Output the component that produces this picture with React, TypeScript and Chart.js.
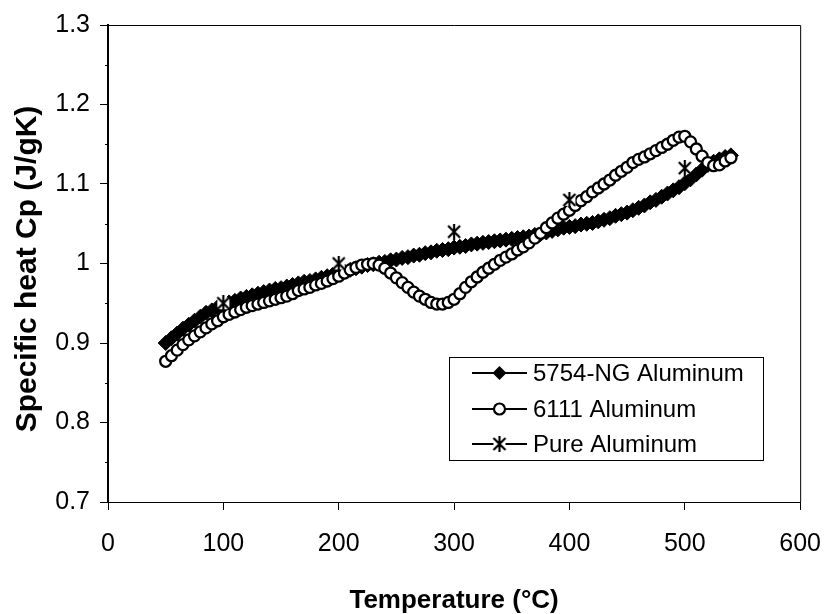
import React, { useEffect, useRef } from "react";
import { Chart, registerables } from "chart.js";

Chart.register(...registerables);

// Temperature grid (°C) shared by the two DSC curves
const TEMPS = [
  50, 55, 60, 65, 70, 75, 80, 85, 90, 95,
  100, 105, 110, 115, 120, 125, 130, 135, 140, 145,
  150, 155, 160, 165, 170, 175, 180, 185, 190, 195,
  200, 205, 210, 215, 220, 225, 230, 235, 240, 245,
  250, 255, 260, 265, 270, 275, 280, 285, 290, 295,
  300, 305, 310, 315, 320, 325, 330, 335, 340, 345,
  350, 355, 360, 365, 370, 375, 380, 385, 390, 395,
  400, 405, 410, 415, 420, 425, 430, 435, 440, 445,
  450, 455, 460, 465, 470, 475, 480, 485, 490, 495,
  500, 505, 510, 515, 520, 525, 530, 535, 540,
];

const CP_5754 = [
  0.900, 0.906, 0.912, 0.918, 0.923, 0.928, 0.933, 0.938, 0.941, 0.945,
  0.948, 0.951, 0.953, 0.956, 0.958, 0.960, 0.962, 0.964, 0.966, 0.968,
  0.969, 0.971, 0.973, 0.975, 0.977, 0.978, 0.980, 0.982, 0.984, 0.986,
  0.988, 0.990, 0.992, 0.994, 0.996, 0.998, 0.999, 1.001, 1.002, 1.004,
  1.005, 1.007, 1.008, 1.010, 1.011, 1.013, 1.014, 1.016, 1.017, 1.018,
  1.020, 1.021, 1.022, 1.024, 1.025, 1.026, 1.027, 1.028, 1.029, 1.030,
  1.031, 1.032, 1.033, 1.034, 1.036, 1.037, 1.039, 1.041, 1.043, 1.045,
  1.046, 1.047, 1.049, 1.050, 1.051, 1.053, 1.055, 1.057, 1.060, 1.062,
  1.064, 1.067, 1.070, 1.073, 1.077, 1.080, 1.084, 1.088, 1.092, 1.096,
  1.101, 1.106, 1.112, 1.118, 1.124, 1.128, 1.131, 1.134, 1.136,
];

const CP_6111 = [
  0.877, 0.884, 0.891, 0.898, 0.904, 0.909, 0.914, 0.919, 0.924, 0.928,
  0.933, 0.936, 0.939, 0.942, 0.945, 0.947, 0.949, 0.951, 0.953, 0.955,
  0.957, 0.959, 0.962, 0.966, 0.968, 0.970, 0.973, 0.975, 0.978, 0.981,
  0.984, 0.988, 0.992, 0.995, 0.998, 0.999, 1.000, 0.998, 0.994, 0.988,
  0.982, 0.976, 0.970, 0.964, 0.959, 0.955, 0.951, 0.949, 0.949, 0.951,
  0.955, 0.962, 0.970, 0.977, 0.983, 0.989, 0.994, 0.999, 1.004, 1.008,
  1.012, 1.017, 1.021, 1.026, 1.032, 1.038, 1.045, 1.051, 1.057, 1.062,
  1.067, 1.073, 1.079, 1.084, 1.090, 1.095, 1.100, 1.105, 1.111, 1.116,
  1.121, 1.127, 1.131, 1.134, 1.138, 1.142, 1.146, 1.150, 1.155, 1.159,
  1.160, 1.153, 1.144, 1.135, 1.127, 1.123, 1.124, 1.129, 1.133,
];

const PURE_TEMPS = [100, 200, 300, 400, 500];
const CP_PURE = [0.95, 1.0, 1.04, 1.08, 1.12];

const SERIES_NAMES = ["5754-NG Aluminum", "6111 Aluminum", "Pure Aluminum"];

const X_TICKS = [0, 100, 200, 300, 400, 500, 600];
const Y_TICK_LABELS = ["0.7", "0.8", "0.9", "1", "1.1", "1.2", "1.3"];

const X_TITLE = "Temperature (\u00B0C)";
const Y_TITLE = "Specific heat Cp (J/gK)";

const FONT = "'Liberation Sans', Arial, sans-serif";

function toPoints(xs: number[], ys: number[]) {
  return xs.map((x, i) => ({ x, y: ys[i] }));
}

function makeStar(size: number): HTMLCanvasElement {
  const c = document.createElement("canvas");
  c.width = size;
  c.height = size;
  const g = c.getContext("2d")!;
  const h = size / 2;
  g.fillStyle = "#fff";
  g.fillRect(2, 2, size - 4, size - 4);
  g.strokeStyle = "#000";
  g.lineWidth = 2.2;
  g.lineCap = "butt";
  g.beginPath();
  g.moveTo(h, 0);
  g.lineTo(h, size);
  g.moveTo(2, 2);
  g.lineTo(size - 2, size - 2);
  g.moveTo(size - 2, 2);
  g.lineTo(2, size - 2);
  g.stroke();
  return c;
}

export default function App() {
  const ref = useRef<HTMLCanvasElement | null>(null);

  useEffect(() => {
    if (!ref.current) return;
    const star = makeStar(16);

    const decorPlugin = {
      id: "decor",
      afterDraw(chart: any) {
        const ctx = chart.ctx as CanvasRenderingContext2D;
        const a = chart.chartArea;
        const yScale = chart.scales.y;
        ctx.save();
        // plot frame (top & right)
        ctx.strokeStyle = "#000";
        ctx.lineWidth = 1;
        ctx.beginPath();
        ctx.moveTo(a.left, a.top + 0.5);
        ctx.lineTo(a.right + 0.5, a.top + 0.5);
        ctx.lineTo(a.right + 0.5, a.bottom);
        ctx.stroke();
        // minor y ticks
        ctx.beginPath();
        for (let i = 0; i < Y_TICK_LABELS.length - 1; i++) {
          const v = (parseFloat(Y_TICK_LABELS[i]) + parseFloat(Y_TICK_LABELS[i + 1])) / 2;
          const py = Math.round(yScale.getPixelForValue(v)) + 0.5;
          ctx.moveTo(a.left - 3, py);
          ctx.lineTo(a.left, py);
        }
        ctx.stroke();

        // axis titles
        ctx.fillStyle = "#000";
        ctx.font = `bold 26px ${FONT}`;
        ctx.textAlign = "center";
        ctx.textBaseline = "alphabetic";
        ctx.fillText(X_TITLE, (a.left + a.right) / 2, 608);

        ctx.save();
        ctx.translate(28, 269);
        ctx.rotate(-Math.PI / 2);
        ctx.font = `bold 30px ${FONT}`;
        ctx.textBaseline = "middle";
        ctx.fillText(Y_TITLE, 0, 0);
        ctx.restore();

        // legend
        const lx = 449.5, ly = 357.5, lw = 314, lh = 103;
        ctx.fillStyle = "#fff";
        ctx.fillRect(lx, ly, lw, lh);
        ctx.strokeStyle = "#000";
        ctx.lineWidth = 1;
        ctx.strokeRect(lx, ly, lw, lh);
        const rows = [373, 409, 444];
        ctx.font = `24px ${FONT}`;
        ctx.textAlign = "left";
        ctx.textBaseline = "middle";
        rows.forEach((ry, i) => {
          ctx.strokeStyle = "#000";
          ctx.lineWidth = 2;
          ctx.beginPath();
          ctx.moveTo(472, ry);
          ctx.lineTo(527, ry);
          ctx.stroke();
          const mx = 499.5;
          if (i === 0) {
            ctx.fillStyle = "#000";
            ctx.beginPath();
            ctx.moveTo(mx, ry - 7);
            ctx.lineTo(mx + 7, ry);
            ctx.lineTo(mx, ry + 7);
            ctx.lineTo(mx - 7, ry);
            ctx.closePath();
            ctx.fill();
          } else if (i === 1) {
            ctx.fillStyle = "#fff";
            ctx.beginPath();
            ctx.arc(mx, ry, 5.5, 0, Math.PI * 2);
            ctx.fill();
            ctx.lineWidth = 2.2;
            ctx.stroke();
          } else {
            ctx.drawImage(star, mx - 8, ry - 8);
          }
          ctx.fillStyle = "#000";
          ctx.fillText(SERIES_NAMES[i], 533, ry + 1);
        });
        ctx.restore();
      },
    };

    const chart = new Chart(ref.current, {
      type: "scatter",
      data: {
        datasets: [
          {
            label: SERIES_NAMES[2],
            data: toPoints(PURE_TEMPS, CP_PURE),
            showLine: false,
            pointStyle: star as any,
            pointRadius: 8,
            order: 1,
          },
          {
            label: SERIES_NAMES[1],
            data: toPoints(TEMPS, CP_6111),
            showLine: true,
            borderColor: "#000",
            borderWidth: 2,
            pointStyle: "circle",
            pointRadius: 5.5,
            pointBorderWidth: 2.3,
            pointBorderColor: "#000",
            pointBackgroundColor: "#fff",
            order: 2,
          },
          {
            label: SERIES_NAMES[0],
            data: toPoints(TEMPS, CP_5754),
            showLine: true,
            borderColor: "#000",
            borderWidth: 2,
            pointStyle: "rectRot",
            pointRadius: 7.5,
            pointBorderWidth: 1,
            pointBorderColor: "#000",
            pointBackgroundColor: "#000",
            order: 3,
          },
        ],
      },
      options: {
        animation: false,
        responsive: false,
        devicePixelRatio: 1,
        layout: { padding: { top: 21, right: 27, left: 0, bottom: 0 } },
        plugins: {
          legend: { display: false },
          tooltip: { enabled: false },
        },
        scales: {
          x: {
            type: "linear",
            min: X_TICKS[0],
            max: X_TICKS[X_TICKS.length - 1],
            afterBuildTicks: (s: any) => {
              s.ticks = X_TICKS.map((v) => ({ value: v }));
            },
            ticks: {
              color: "#000",
              font: { family: FONT, size: 25 },
              padding: 19,
              maxRotation: 0,
              callback: (v: any) => String(v),
            },
            grid: {
              drawOnChartArea: false,
              drawTicks: true,
              tickLength: 8,
              color: "#000",
              lineWidth: 1,
            },
            border: { color: "#000", width: 1 },
            afterFit: (s: any) => {
              s.height = 112;
            },
          },
          y: {
            type: "linear",
            min: 0.7,
            max: 1.3,
            afterBuildTicks: (s: any) => {
              s.ticks = Y_TICK_LABELS.map((l) => ({ value: parseFloat(l) }));
            },
            ticks: {
              color: "#000",
              font: { family: FONT, size: 25 },
              padding: 10,
              callback: (v: any) => {
                const idx = Y_TICK_LABELS.findIndex((l) => Math.abs(parseFloat(l) - v) < 1e-6);
                return idx >= 0 ? Y_TICK_LABELS[idx] : "";
              },
            },
            grid: {
              drawOnChartArea: false,
              drawTicks: true,
              tickLength: 8,
              color: "#000",
              lineWidth: 1,
            },
            border: { color: "#000", width: 2 },
            afterFit: (s: any) => {
              s.width = 108;
            },
          },
        },
      },
      plugins: [decorPlugin],
    } as any);

    return () => chart.destroy();
  }, []);

  return (
    <div style={{ position: "fixed", left: 0, top: 0, width: 840, height: 614, background: "#fff" }}>
      <canvas ref={ref} width={840} height={614} style={{ display: "block" }} />
    </div>
  );
}
